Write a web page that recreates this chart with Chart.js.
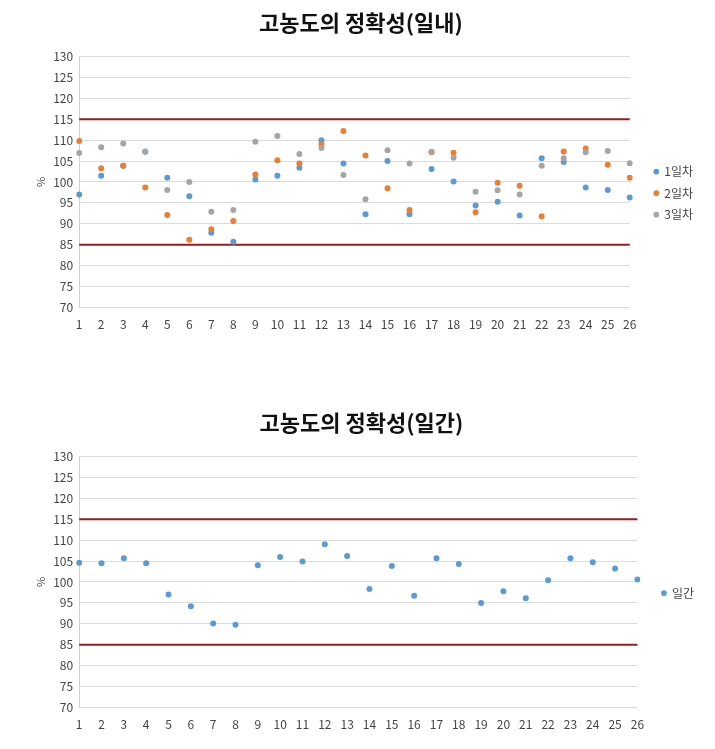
<!DOCTYPE html>
<html>
<head>
<meta charset="utf-8">
<script src="https://cdn.jsdelivr.net/npm/chart.js@4/dist/chart.umd.min.js"></script>
<style>
  body { margin: 0; background: #fff; }
  .wrap { position: absolute; left: 0; width: 715px; }
  #top { top: 0; height: 344px; }
  #bottom { top: 400px; height: 344px; }
</style>
</head>
<body>
<div class="wrap" id="top"><canvas id="chartDay"></canvas></div>
<div class="wrap" id="bottom"><canvas id="chartInter"></canvas></div>
<script>
const days = ['1','2','3','4','5','6','7','8','9','10','11','12','13','14','15','16','17','18','19','20','21','22','23','24','25','26'];

// 일내 (intra-day) values, %
const day1 = [97.0,101.5,103.9,107.2,101.0,96.6,87.9,85.7,100.6,101.5,103.4,110.0,104.4,92.3,105.0,92.3,103.1,100.1,94.4,95.3,92.0,105.7,104.8,98.7,98.1,96.3];
const day2 = [109.8,103.3,103.9,98.7,92.1,86.2,88.7,90.7,101.8,105.2,104.4,109.1,112.2,106.3,98.5,93.3,107.1,107.0,92.8,99.8,99.1,91.8,107.3,108.0,104.1,101.0];
const day3 = [106.9,108.3,109.2,107.3,98.1,100.0,92.9,93.3,109.6,111.0,106.7,108.1,101.7,95.9,107.6,104.4,107.2,105.8,97.7,98.0,97.0,103.9,105.7,107.1,107.4,104.5];

// 일간 (inter-day) values, %
const interDay = [104.6,104.5,105.7,104.5,97.0,94.2,90.1,89.8,104.0,106.0,104.9,109.0,106.2,98.3,103.8,96.7,105.7,104.3,95.0,97.8,96.1,100.4,105.7,104.7,103.2,100.6];

const upperLimit = 115;
const lowerLimit = 85;
const yTicks = { min: 70, max: 130, step: 5 };

const FONT = "'Noto Sans CJK KR', 'Noto Sans', sans-serif";
const limitColor = '#9b1c1c';

// push the legend a bit away from the plot, like excel does
const legendGap = {
  id: 'legendGap',
  afterLayout(chart) {
    if (chart.legend) {
      chart.legend.left += 15;
      chart.legend.right += 15;
    }
  }
};

function limitLine(v) {
  return {
    type: 'line',
    label: '_limit',
    data: [{ x: days[0], y: v }, { x: days[days.length - 1], y: v }],
    borderColor: limitColor,
    borderWidth: 2,
    pointRadius: 0,
    showLine: true,
    fill: false,
    order: 10
  };
}

// excel draws later series on top, chart.js draws lower order on top
function dots(label, data, color, order) {
  return {
    type: 'line',
    label: label,
    data: data,
    order: order,
    showLine: false,
    pointRadius: 3,
    pointHoverRadius: 3,
    pointBackgroundColor: color,
    pointBorderColor: color,
    borderColor: color,
    backgroundColor: color,
    pointBorderWidth: 0
  };
}

function makeChart(id, title, series, pad) {
  const ctx = document.getElementById(id).getContext('2d');
  return new Chart(ctx, {
    type: 'line',
    data: {
      labels: days,
      datasets: [...series, limitLine(upperLimit), limitLine(lowerLimit)]
    },
    plugins: [legendGap],
    options: {
      responsive: true,
      maintainAspectRatio: false,
      animation: false,
      layout: { padding: pad },
      plugins: {
        title: {
          display: true,
          text: title,
          color: '#111',
          font: { family: FONT, size: 22, weight: 'bold' },
          padding: { top: 9, bottom: 21 }
        },
        legend: {
          position: 'right',
          title: { display: true, text: ' ', font: { size: 12 }, padding: { top: 30, bottom: 0 } },
          labels: {
            usePointStyle: true,
            pointStyle: 'circle',
            boxWidth: 4,
            boxHeight: 4,
            padding: 9.5,
            color: '#444',
            font: { family: FONT, size: 12 },
            filter: item => item.text !== '_limit',
            sort: (a, b) => a.datasetIndex - b.datasetIndex
          }
        },
        tooltip: { enabled: false }
      },
      scales: {
        x: {
          offset: false,
          grid: { display: false, drawTicks: false },
          border: { display: false },
          ticks: { color: '#444', font: { family: FONT, size: 12 }, padding: 10, maxRotation: 0, autoSkip: false }
        },
        y: {
          min: yTicks.min,
          max: yTicks.max,
          grid: { color: '#dcdcdc', drawTicks: false },
          border: { color: '#d0d0d0' },
          title: { display: true, text: '%', color: '#444', font: { family: FONT, size: 11 }, padding: 0 },
          ticks: { stepSize: yTicks.step, color: '#444', font: { family: FONT, size: 12 }, padding: 6 }
        }
      }
    }
  });
}

makeChart('chartDay', '고농도의 정확성(일내)', [
  dots('1일차', day1, '#5b9bd5', 3),
  dots('2일차', day2, '#ed7d31', 2),
  dots('3일차', day3, '#a5a5a5', 1)
], { left: 34, right: 27, top: 0, bottom: 2 });

makeChart('chartInter', '고농도의 정확성(일간)', [
  dots('일간', interDay, '#5b9bd5', 1)
], { left: 34, right: 26, top: 0, bottom: 2 });
</script>
</body>
</html>
